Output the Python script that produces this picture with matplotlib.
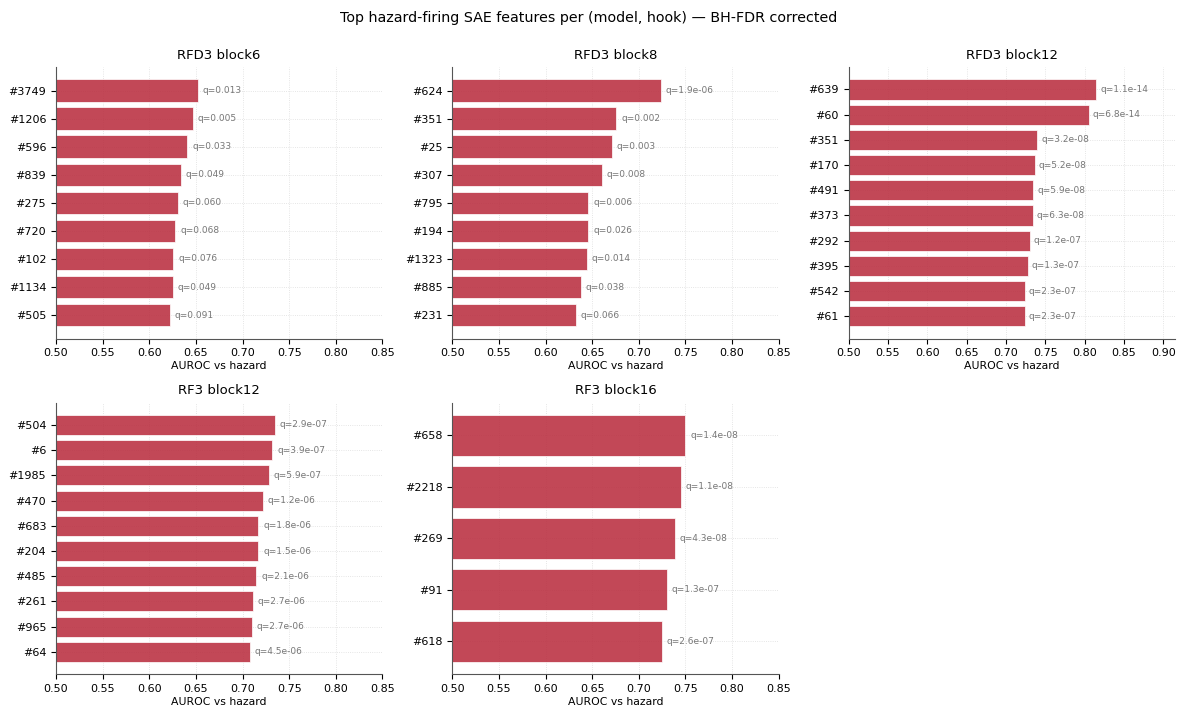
import matplotlib
matplotlib.use('Agg')
import matplotlib.pyplot as plt
from matplotlib.ticker import MultipleLocator

# panel titles
panels = ['RFD3 block6', 'RFD3 block8', 'RFD3 block12', 'RF3 block12', 'RF3 block16']

# features (top to bottom), AUROC, BH-FDR q-values per panel
rfd3_b6_feats = ['#3749', '#1206', '#596', '#839', '#275', '#720', '#102', '#1134', '#505']
rfd3_b6_auroc = [0.652, 0.647, 0.641, 0.634, 0.631, 0.628, 0.626, 0.625, 0.622]
rfd3_b6_q = ['0.013', '0.005', '0.033', '0.049', '0.060', '0.068', '0.076', '0.049', '0.091']

rfd3_b8_feats = ['#624', '#351', '#25', '#307', '#795', '#194', '#1323', '#885', '#231']
rfd3_b8_auroc = [0.724, 0.676, 0.671, 0.660, 0.646, 0.646, 0.644, 0.638, 0.633]
rfd3_b8_q = ['1.9e-06', '0.002', '0.003', '0.008', '0.006', '0.026', '0.014', '0.038', '0.066']

rfd3_b12_feats = ['#639', '#60', '#351', '#170', '#491', '#373', '#292', '#395', '#542', '#61']
rfd3_b12_auroc = [0.815, 0.805, 0.740, 0.737, 0.735, 0.734, 0.730, 0.728, 0.724, 0.724]
rfd3_b12_q = ['1.1e-14', '6.8e-14', '3.2e-08', '5.2e-08', '5.9e-08', '6.3e-08',
              '1.2e-07', '1.3e-07', '2.3e-07', '2.3e-07']

rf3_b12_feats = ['#504', '#6', '#1985', '#470', '#683', '#204', '#485', '#261', '#965', '#64']
rf3_b12_auroc = [0.735, 0.732, 0.728, 0.722, 0.717, 0.717, 0.715, 0.711, 0.710, 0.708]
rf3_b12_q = ['2.9e-07', '3.9e-07', '5.9e-07', '1.2e-06', '1.8e-06', '1.5e-06',
             '2.1e-06', '2.7e-06', '2.7e-06', '4.5e-06']

rf3_b16_feats = ['#658', '#2218', '#269', '#91', '#618']
rf3_b16_auroc = [0.750, 0.745, 0.739, 0.730, 0.725]
rf3_b16_q = ['1.4e-08', '1.1e-08', '4.3e-08', '1.3e-07', '2.6e-07']

data = [
    (rfd3_b6_feats, rfd3_b6_auroc, rfd3_b6_q),
    (rfd3_b8_feats, rfd3_b8_auroc, rfd3_b8_q),
    (rfd3_b12_feats, rfd3_b12_auroc, rfd3_b12_q),
    (rf3_b12_feats, rf3_b12_auroc, rf3_b12_q),
    (rf3_b16_feats, rf3_b16_auroc, rf3_b16_q),
]

fig, axes = plt.subplots(2, 3, figsize=(11.78, 7.09), dpi=100)
axes = axes.ravel()

for ax, title, (feats, auroc, qs) in zip(axes, panels, data):
    y = list(range(len(feats)))[::-1]
    ax.barh(y, auroc, height=0.8, color='#b8283a', alpha=0.85,
            edgecolor='white', linewidth=0.6)
    for yi, a, q in zip(y, auroc, qs):
        ax.text(a + 0.005, yi, f'q={q}', va='center', ha='left', fontsize=6.5, color='#777777')
    ax.set_yticks(y)
    ax.set_yticklabels(feats, fontsize=8)
    ax.set_xlim(0.5, max(0.85, max(auroc) + 0.1))
    ax.xaxis.set_major_locator(MultipleLocator(0.05))
    ax.tick_params(axis='x', labelsize=8)
    ax.set_xlabel('AUROC vs hazard', fontsize=7.8, labelpad=2)
    ax.set_title(title, fontsize=9.5)
    ax.grid(True, linestyle=':', linewidth=0.6, color='#dddddd')
    ax.set_axisbelow(True)
    ax.spines['top'].set_visible(False)
    ax.spines['right'].set_visible(False)
    ax.spines['left'].set_color('#555555')
    ax.spines['bottom'].set_color('#555555')

axes[5].axis('off')

fig.suptitle('Top hazard-firing SAE features per (model, hook) \u2014 BH-FDR corrected',
             fontsize=10.3, y=0.985)
plt.subplots_adjust(left=0.0475, right=0.9975, top=0.9055, bottom=0.049,
                    wspace=0.214, hspace=0.235)
fig.savefig('out.png', dpi=100)
